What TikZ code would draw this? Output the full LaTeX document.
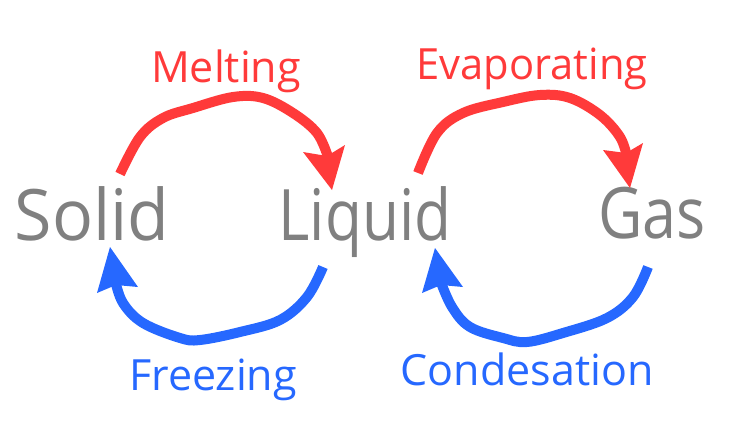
\documentclass[tikz,border=0pt]{standalone}
\usepackage{fontspec}
\setmainfont{Open Sans}
\definecolor{phred}{RGB}{255,58,58}
\definecolor{phblue}{RGB}{38,104,255}
\definecolor{phgray}{RGB}{128,128,128}
\begin{document}
\begin{tikzpicture}[x=1pt,y=-1pt,
  state/.style={text=phgray,font=\fontsize{71}{80}\selectfont,anchor=base,inner sep=0pt},
  lab/.style={font=\fontsize{43}{50}\selectfont,anchor=base,inner sep=0pt},
  curve/.style={line width=10pt,line cap=butt,line join=round},
  head/.style={fill}]
\useasboundingbox (0,0) rectangle (731,428);
% states
\node[state] (solid) at (92,240) {\scalebox{0.96}[1]{Solid}};
\node[state] (liquid) at (365,240) {\scalebox{0.85}[1]{Liquid}};
\node[state] (gas) at (652,238) {\scalebox{0.86}[1]{Gas}};
% labels
\node[lab,text=phred] (melt) at (226,83) {Melting};
\node[lab,text=phred] (evap) at (532,80) {\scalebox{0.97}[1]{Evaporating}};
\node[lab,text=phblue] (freeze) at (213,390) {Freezing};
\node[lab,text=phblue] (cond) at (527,385) {Condesation};
% Melting arrow
\draw[curve,phred] plot[smooth,tension=0.6] coordinates {(120,174) (140,137) (163,118) (193,108) (233,97) (263,98) (293,113) (317,133) (328,157)};
\fill[phred] (303,152) -- (327,156) -- (345,145) -- (332,190) -- cycle;
% Evaporating arrow
\draw[curve,phred] plot[smooth,tension=0.6] coordinates {(418,173) (437,133) (463,113) (503,102) (540,95) (570,98) (600,115) (620,137) (627,157)};
\fill[phred] (603,150) -- (626,153) -- (643,143) -- (630,188) -- cycle;
% Freezing arrow
\draw[curve,phblue] plot[smooth,tension=0.6] coordinates {(323,267) (307,297) (280,320) (240,332) (200,340) (180,338) (143,323) (123,303) (115,280)};
\fill[phblue] (97,293) -- (116,285) -- (138,287) -- (110,247) -- cycle;
% Condensation arrow
\draw[curve,phblue] plot[smooth,tension=0.6] coordinates {(648,267) (633,297) (607,318) (563,333) (527,342) (503,338) (470,327) (452,307) (440,280)};
\fill[phblue] (422,293) -- (441,285) -- (463,287) -- (435,248) -- cycle;
\end{tikzpicture}
\end{document}
